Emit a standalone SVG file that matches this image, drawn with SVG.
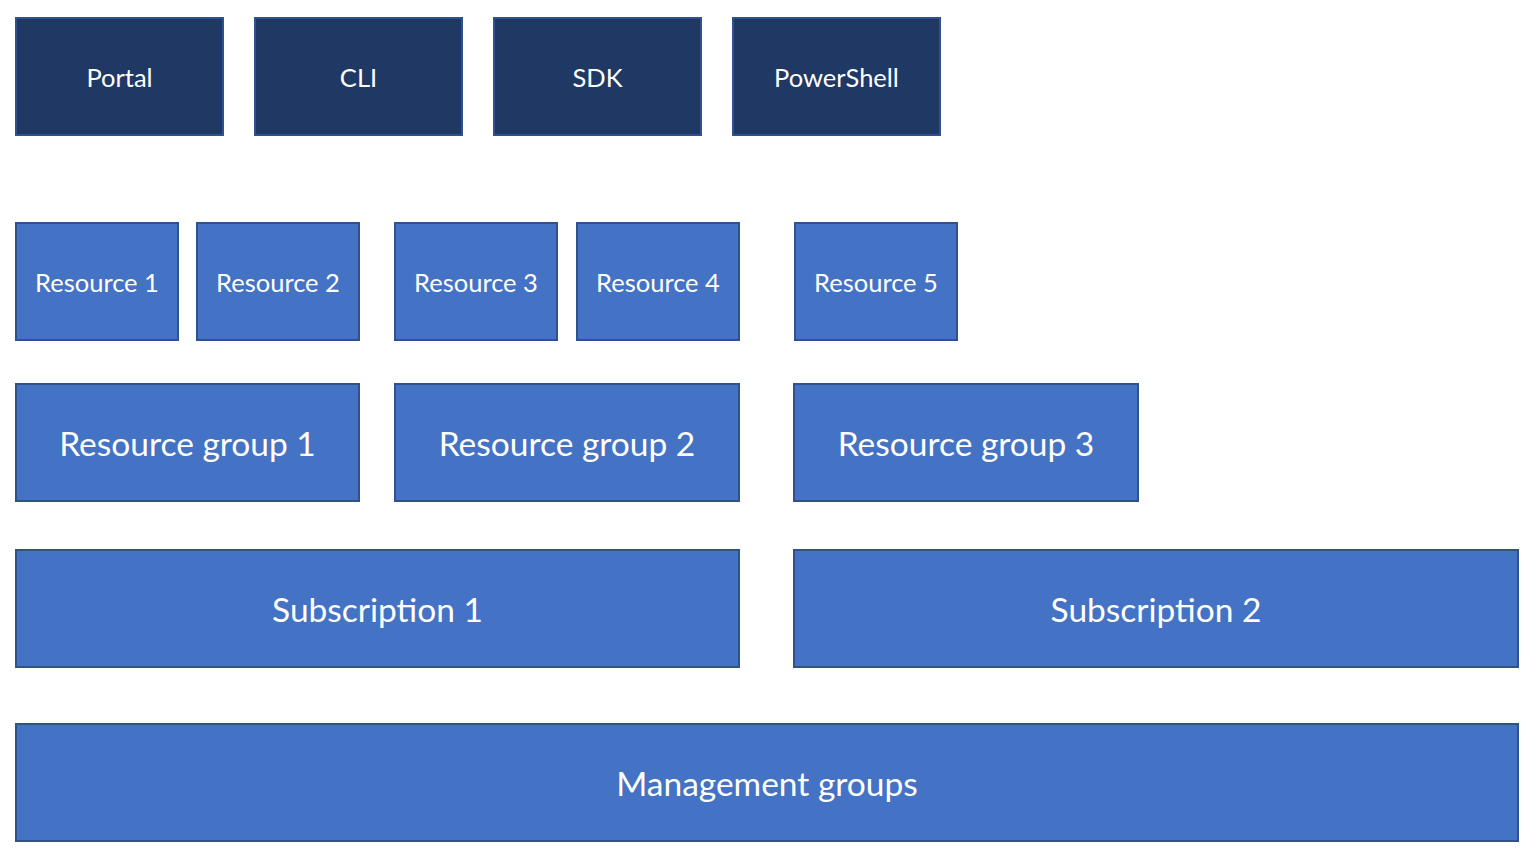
<svg xmlns="http://www.w3.org/2000/svg" width="1536" height="859" viewBox="0 0 1536 859">
<style>
rect{stroke:#2F528F;stroke-width:2}
.dk{fill:#203864}
.bl{fill:#4472C4}
text{fill:#FFFFFF;font-family:Lato,"Open Sans","Liberation Sans",sans-serif;text-anchor:middle;dominant-baseline:central}
.s24{font-size:25.5px}
.s32{font-size:33.5px}
</style>
<rect x="0" y="0" width="1536" height="859" style="fill:#FFFFFF;stroke:none"/>
<g id="portal"><rect class="dk" x="16" y="18" width="207" height="117"/><text class="s24" x="119.5" y="77">Portal</text></g>
<g id="cli"><rect class="dk" x="255" y="18" width="207" height="117"/><text class="s24" x="358.5" y="77">CLI</text></g>
<g id="sdk"><rect class="dk" x="494" y="18" width="207" height="117"/><text class="s24" x="597.5" y="77">SDK</text></g>
<g id="powershell"><rect class="dk" x="733" y="18" width="207" height="117"/><text class="s24" x="836.5" y="77">PowerShell</text></g>
<g id="resource1"><rect class="bl" x="16" y="223" width="162" height="117"/><text class="s24" x="97" y="282">Resource 1</text></g>
<g id="resource2"><rect class="bl" x="197" y="223" width="162" height="117"/><text class="s24" x="278" y="282">Resource 2</text></g>
<g id="resource3"><rect class="bl" x="395" y="223" width="162" height="117"/><text class="s24" x="476" y="282">Resource 3</text></g>
<g id="resource4"><rect class="bl" x="577" y="223" width="162" height="117"/><text class="s24" x="658" y="282">Resource 4</text></g>
<g id="resource5"><rect class="bl" x="795" y="223" width="162" height="117"/><text class="s24" x="876" y="282">Resource 5</text></g>
<g id="rg1"><rect class="bl" x="16" y="384" width="343" height="117"/><text class="s32" x="187.5" y="443">Resource group 1</text></g>
<g id="rg2"><rect class="bl" x="395" y="384" width="344" height="117"/><text class="s32" x="567" y="443">Resource group 2</text></g>
<g id="rg3"><rect class="bl" x="794" y="384" width="344" height="117"/><text class="s32" x="966" y="443">Resource group 3</text></g>
<g id="sub1"><rect class="bl" x="16" y="550" width="723" height="117"/><text class="s32" x="377.5" y="609">Subscription 1</text></g>
<g id="sub2"><rect class="bl" x="794" y="550" width="724" height="117"/><text class="s32" x="1156" y="609">Subscription 2</text></g>
<g id="mgmt"><rect class="bl" x="16" y="724" width="1502" height="117"/><text class="s32" x="767" y="783">Management groups</text></g>
<g id="connectors"/>
</svg>
